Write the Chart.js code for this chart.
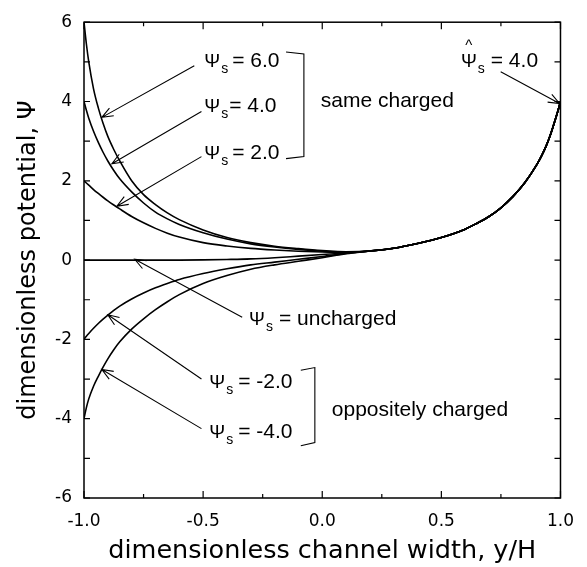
<!DOCTYPE html>
<html><head><meta charset="utf-8">
<script src="https://cdn.jsdelivr.net/npm/chart.js@4"></script>
<style>html,body{margin:0;padding:0;background:#fff;}canvas{display:block;}</style>
</head><body>
<canvas id="c" width="587" height="567"></canvas>
<script>
// channel position y/H
const yH = [-1, -0.99, -0.98, -0.96, -0.94, -0.92, -0.9, -0.875, -0.85, -0.8, -0.75, -0.7, -0.65, -0.6, -0.5, -0.4, -0.3, -0.2, -0.1, 0, 0.1,
            0.2, 0.3, 0.4, 0.5, 0.6, 0.65, 0.7, 0.75, 0.8, 0.85, 0.9, 0.92, 0.94, 0.96, 0.98, 0.99, 1.0];
// left part (y/H from -1 to 0.1) of each curve
const psiPos6 = [6.0, 5.45, 5.0, 4.32, 3.84, 3.45, 3.12, 2.79, 2.5, 2.0, 1.65, 1.40, 1.19, 1.02, 0.76, 0.57, 0.44, 0.35, 0.29, 0.24, 0.21];
const psiPos4 = [4.0, 3.78, 3.58, 3.25, 2.97, 2.72, 2.5, 2.26, 2.05, 1.72, 1.44, 1.21, 1.04, 0.90, 0.69, 0.53, 0.41, 0.33, 0.27, 0.225, 0.2];
const psiPos2 = [2.0, 1.945, 1.89, 1.78, 1.68, 1.585, 1.495, 1.39, 1.29, 1.1, 0.94, 0.8, 0.68, 0.58, 0.44, 0.355, 0.295, 0.255, 0.225, 0.205, 0.195];
const psiZero = [0, 0, 0, 0, 0, 0, 0, 0, 0, 0, 0, 0, 0, 0, 0.005, 0.015, 0.03, 0.06, 0.1, 0.14, 0.18];
const psiNeg2 = [-2.0, -1.92, -1.85, -1.72, -1.6, -1.49, -1.39, -1.27, -1.16, -0.98, -0.83, -0.7, -0.59, -0.49, -0.34, -0.22, -0.12, -0.05, 0.02, 0.09, 0.17];
const psiNeg4 = [-4.0, -3.72, -3.5, -3.18, -2.93, -2.7, -2.49, -2.26, -2.06, -1.74, -1.48, -1.25, -1.05, -0.87, -0.59, -0.39, -0.23, -0.12, -0.03, 0.06, 0.16];
// common right part (y/H from 0.2 to 1.0), wall potential 4.0
const rightBranch = [0.23, 0.3, 0.42, 0.57, 0.78, 0.93, 1.1, 1.32, 1.6, 1.95, 2.4, 2.62, 2.88, 3.2, 3.58, 3.78, 4.0];

const xTickValues = [-1.0, -0.5, 0.0, 0.5, 1.0];
const xMinorTicks = [-0.75, -0.25, 0.25, 0.75];
const yTickValues = [-6, -4, -2, 0, 2, 4, 6];
const yMinorTicks = [-5, -3, -1, 1, 3, 5];

const seriesLeft = [psiPos6, psiPos4, psiPos2, psiZero, psiNeg2, psiNeg4];
const seriesNames = ['6.0', '4.0', '2.0', 'uncharged', '-2.0', '-4.0'];

const datasets = seriesLeft.map((left, k) => {
  const vals = left.concat(rightBranch);
  return {
    label: seriesNames[k],
    data: yH.map((x, i) => ({x: x, y: vals[i]})),
    borderColor: '#000',
    borderWidth: 1.6,
    pointRadius: 0,
    fill: false,
    cubicInterpolationMode: 'monotone'
  };
});

const AF = '"Liberation Sans", Arial, sans-serif';
const labels = [
  {x: -0.495, y: 4.88, rest: '= 6.0', gap: 4},
  {x: -0.495, y: 3.73, rest: '= 4.0', gap: 1},
  {x: -0.495, y: 2.56, rest: '= 2.0', gap: 4},
  {x: -0.307, y: -1.63, rest: '= uncharged', gap: 6},
  {x: -0.474, y: -3.23, rest: '= -2.0', gap: 5},
  {x: -0.474, y: -4.48, rest: '= -4.0', gap: 5},
  {x: 0.582, y: 4.88, rest: '= 4.0', gap: 6, hat: true}
];
const arrows = [
  [-0.537, 4.90, -0.925, 3.60],
  [-0.507, 3.75, -0.883, 2.43],
  [-0.507, 2.61, -0.862, 1.36],
  [-0.336, -1.44, -0.787, 0.02],
  [-0.507, -3.0, -0.9, -1.38],
  [-0.507, -4.25, -0.925, -2.76],
  [0.749, 4.75, 0.996, 3.95]
];
const brackets = [
  [[-0.152, 5.25], [-0.077, 5.20], [-0.077, 2.61], [-0.152, 2.56]],
  [[-0.090, -2.78], [-0.031, -2.71], [-0.031, -4.60], [-0.090, -4.68]]
];
const groupTexts = [
  {x: -0.006, y: 3.85, text: 'same charged'},
  {x: 0.040, y: -3.93, text: 'oppositely charged'}
];

const framePlugin = {
  id: 'frame',
  afterDatasetsDraw(chart) {
    const {ctx, chartArea: a, scales: {x, y}} = chart;
    ctx.save();
    ctx.strokeStyle = '#000';
    ctx.lineWidth = 1.5;
    ctx.strokeRect(a.left, a.top, a.right - a.left, a.bottom - a.top);
    ctx.lineWidth = 1.2;
    ctx.beginPath();
    const xt = (vals, len) => vals.forEach(v => {
      const p = x.getPixelForValue(v);
      ctx.moveTo(p, a.bottom); ctx.lineTo(p, a.bottom - len);
      ctx.moveTo(p, a.top); ctx.lineTo(p, a.top + len);
    });
    const yt = (vals, len) => vals.forEach(v => {
      const p = y.getPixelForValue(v);
      ctx.moveTo(a.left, p); ctx.lineTo(a.left + len, p);
      ctx.moveTo(a.right, p); ctx.lineTo(a.right - len, p);
    });
    xt(xTickValues, 7); xt(xMinorTicks, 4);
    yt(yTickValues, 6); yt(yMinorTicks, 6);
    ctx.stroke();
    ctx.restore();
  }
};

const annotPlugin = {
  id: 'annot',
  afterDraw(chart) {
    const {ctx, scales: {x, y}} = chart;
    const P = (a, b) => [x.getPixelForValue(a), y.getPixelForValue(b)];
    ctx.save();
    ctx.fillStyle = '#000';
    ctx.strokeStyle = '#000';
    ctx.lineWidth = 1.1;
    ctx.textBaseline = 'alphabetic';
    ctx.textAlign = 'left';
    labels.forEach(l => {
      const [px, py] = P(l.x, l.y);
      ctx.font = '19px ' + AF;
      ctx.fillText('\u03A8', px, py);
      const w = ctx.measureText('\u03A8').width;
      if (l.hat) {
        ctx.font = '15px ' + AF;
        ctx.textAlign = 'center';
        ctx.fillText('^', px + w / 2, py - 17);
        ctx.textAlign = 'left';
      }
      ctx.font = '14px ' + AF;
      ctx.fillText('s', px + w + 1, py + 6);
      const ws = ctx.measureText('s').width;
      ctx.font = '21px ' + AF;
      ctx.fillText(l.rest, px + w + ws + 1 + l.gap, py);
    });
    groupTexts.forEach(g => {
      const [px, py] = P(g.x, g.y);
      ctx.font = '21px ' + AF;
      ctx.fillText(g.text, px, py);
    });
    arrows.forEach(ar => {
      const [x1, y1] = P(ar[0], ar[1]);
      const [x2, y2] = P(ar[2], ar[3]);
      ctx.beginPath();
      ctx.moveTo(x1, y1); ctx.lineTo(x2, y2);
      const ang = Math.atan2(y1 - y2, x1 - x2);
      const L = 12, spread = 0.38;
      ctx.moveTo(x2 + L * Math.cos(ang + spread), y2 + L * Math.sin(ang + spread));
      ctx.lineTo(x2, y2);
      ctx.lineTo(x2 + L * Math.cos(ang - spread), y2 + L * Math.sin(ang - spread));
      ctx.stroke();
    });
    brackets.forEach(br => {
      ctx.beginPath();
      br.forEach((pt, i) => {
        const [px, py] = P(pt[0], pt[1]);
        if (i === 0) ctx.moveTo(px, py); else ctx.lineTo(px, py);
      });
      ctx.stroke();
    });
    ctx.restore();
  }
};

const TF = '"DejaVu Sans", sans-serif';
new Chart(document.getElementById('c'), {
  type: 'line',
  data: {datasets: datasets},
  options: {
    responsive: false,
    animation: false,
    devicePixelRatio: 1,
    layout: {padding: {top: 17, right: 24, left: 0, bottom: 0}},
    plugins: {legend: {display: false}, tooltip: {enabled: false}},
    scales: {
      x: {
        type: 'linear', min: -1, max: 1,
        afterBuildTicks: s => { s.ticks = xTickValues.map(v => ({value: v})); },
        afterFit: s => { s.height = 69; },
        grid: {display: false, drawTicks: false},
        border: {display: false},
        ticks: {color: '#000', font: {family: TF, size: 17}, padding: 13, maxRotation: 0, autoSkip: false,
                callback: v => Number(v).toFixed(1)},
        title: {display: true, text: 'dimensionless channel width, y/H', color: '#000',
                font: {family: TF, size: 25.5}, padding: {top: 0, bottom: 0}}
      },
      y: {
        type: 'linear', min: -6, max: 6,
        afterBuildTicks: s => { s.ticks = yTickValues.map(v => ({value: v})); },
        afterFit: s => { s.width = 84; },
        grid: {display: false, drawTicks: false},
        border: {display: false},
        ticks: {color: '#000', font: {family: TF, size: 17}, padding: 12, autoSkip: false,
                callback: v => String(v)},
        title: {display: true, text: 'dimensionless potential, \u03A8', color: '#000',
                font: {family: TF, size: 24}, padding: {top: 14, bottom: 0}}
      }
    }
  },
  plugins: [framePlugin, annotPlugin]
});
</script>
</body></html>
